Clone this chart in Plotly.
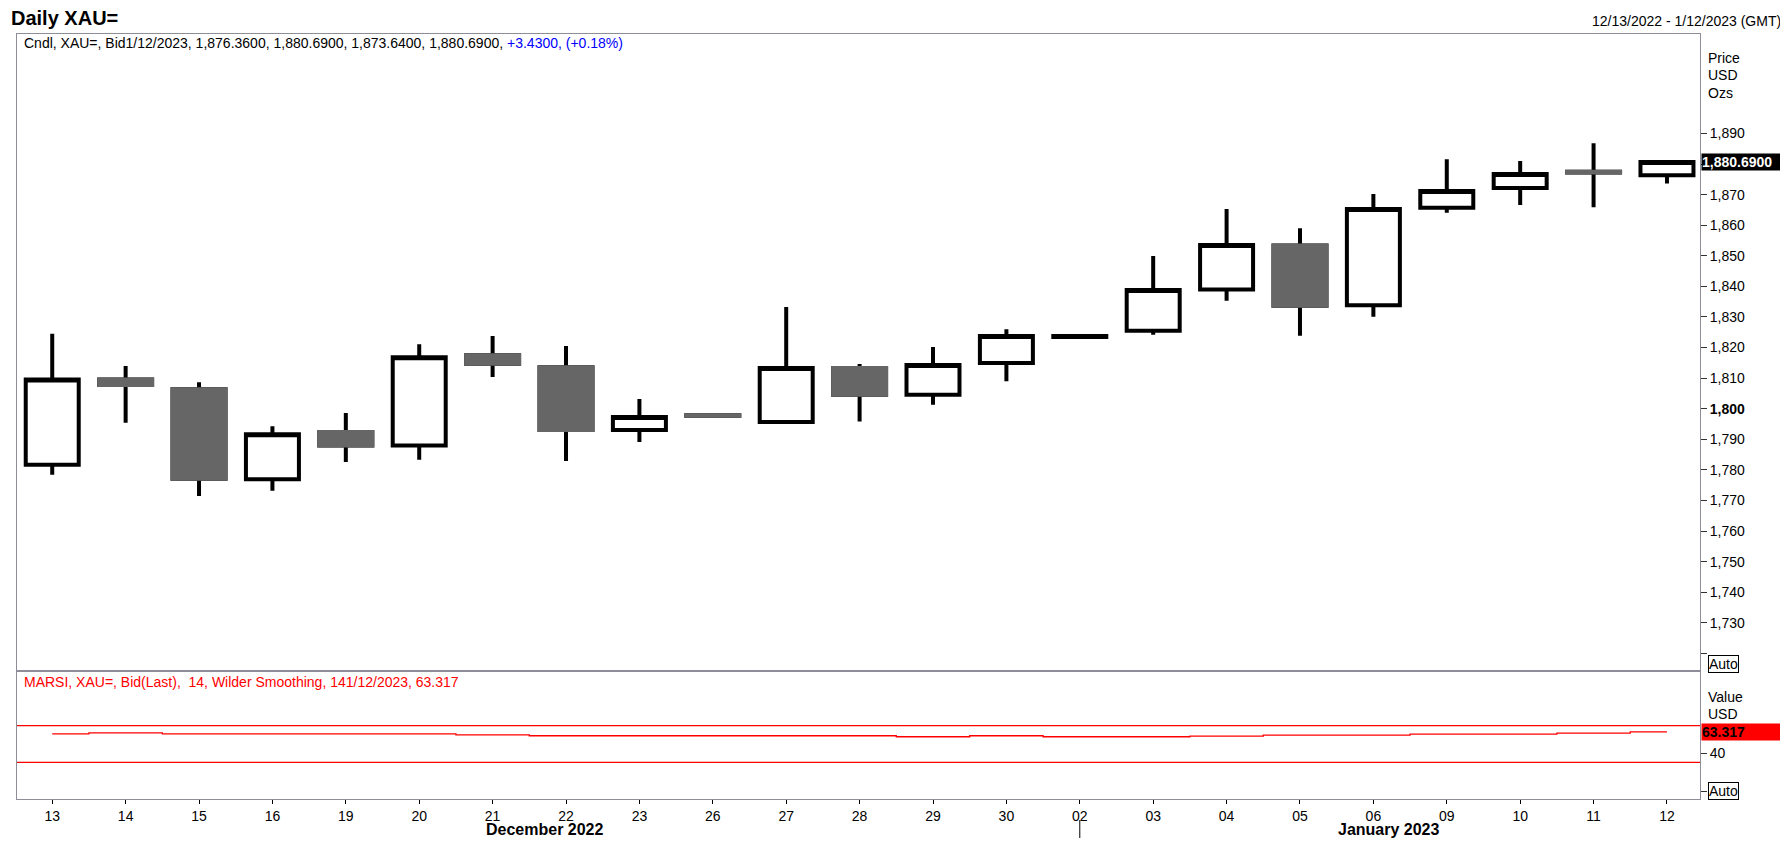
import plotly.graph_objects as go
from plotly.subplots import make_subplots

# daily XAU= bid candles, 13 Dec 2022 - 12 Jan 2023
days = ["13", "14", "15", "16", "19", "20", "21", "22", "23", "26", "27", "28", "29", "30",
        "02", "03", "04", "05", "06", "09", "10", "11", "12"]
months = ["December 2022"] * 14 + ["January 2023"] * 9

opens = [1781.7, 1809.6, 1806.4, 1777.0, 1792.4, 1788.0, 1817.5, 1813.6, 1793.1, 1797.9,
         1795.7, 1813.3, 1804.6, 1815.0, 1823.5, 1825.5, 1839.0, 1853.4, 1833.8, 1865.7,
         1872.2, 1877.45, 1876.36]
highs = [1824.5, 1814.0, 1808.7, 1794.3, 1798.6, 1821.1, 1823.8, 1820.5, 1803.2, 1797.9,
         1833.3, 1814.6, 1820.2, 1826.0, 1823.9, 1849.9, 1865.3, 1859.0, 1870.2, 1881.6,
         1881.0, 1886.8, 1880.69]
lows = [1778.4, 1795.4, 1771.5, 1773.2, 1782.6, 1783.3, 1810.4, 1782.9, 1789.1, 1797.7,
        1795.5, 1795.8, 1801.3, 1809.0, 1823.4, 1824.2, 1835.3, 1823.9, 1830.1, 1864.1,
        1866.6, 1865.9, 1873.64]
closes = [1809.6, 1807.8, 1777.1, 1791.7, 1788.0, 1816.8, 1814.7, 1793.1, 1797.3, 1797.7,
          1813.3, 1804.6, 1814.3, 1823.8, 1823.8, 1838.8, 1853.5, 1833.7, 1865.3, 1871.2,
          1876.7, 1877.26, 1880.69]

# MARSI 14, Wilder smoothing
rsi = [61.1, 62.2, 61.1, 61.1, 61.1, 61.1, 60.0, 59.0, 59.0, 59.0, 59.0, 59.0, 57.9, 59.0,
       57.9, 57.9, 58.6, 59.7, 59.7, 60.8, 60.8, 61.9, 63.317]
rsi_levels = [70, 30]

price_ticks = list(range(1720, 1900, 10))

FONT = "Liberation Sans, Arial, sans-serif"
BORDER = "#8e8e9a"

# plot frame in page pixels; the page body adds an 8px margin round the figure
OFF = 8
PAGE_W, PAGE_H = 1788, 862
L, R, T, B = 17, 1700, 34, 799


def px(X):
    return (X - L) / (R - L)


def py(Y):
    return (B - Y) / (B - T)


idx = list(range(len(days)))
down = [i for i in idx if closes[i] < opens[i]]
last = len(days) - 1

fig = make_subplots(rows=2, cols=1, shared_xaxes=True, vertical_spacing=0,
                    row_heights=[636.5 / 765, 128.5 / 765])

fig.add_trace(go.Candlestick(
    x=idx, open=opens, high=highs, low=lows, close=closes,
    increasing=dict(line=dict(color="black", width=4), fillcolor="white"),
    decreasing=dict(line=dict(color="black", width=4), fillcolor="#666666"),
    whiskerwidth=0, showlegend=False, hoverinfo="skip"), row=1, col=1)

# grey bodies of falling days drawn over the black outline
fig.add_trace(go.Candlestick(
    x=down, open=[opens[i] for i in down], close=[closes[i] for i in down],
    high=[opens[i] for i in down], low=[closes[i] for i in down],
    increasing=dict(line=dict(color="#666666", width=4), fillcolor="#666666"),
    decreasing=dict(line=dict(color="#666666", width=4), fillcolor="#666666"),
    whiskerwidth=0, showlegend=False, hoverinfo="skip"), row=1, col=1)

fig.add_trace(go.Scatter(x=idx, y=rsi, mode="lines", line=dict(color="red", width=1.3, shape="hvh"),
                         showlegend=False, hoverinfo="skip"), row=2, col=1)

fig.update_xaxes(range=[-0.48, 22.45], showline=True, linecolor=BORDER, linewidth=1, mirror=True,
                 showgrid=False, zeroline=False, rangeslider_visible=False)
fig.update_xaxes(showticklabels=False, ticks="", row=1, col=1)
fig.update_xaxes(tickmode="array", tickvals=idx, ticktext=days, ticks="outside", ticklen=4,
                 tickcolor="black", tickfont=dict(family=FONT, size=14, color="black"), row=2, col=1)


def price_label(v):
    if v in (1720, 1880):  # hidden behind the Auto box / last price box
        return ""
    if v == 1800:
        return "<b>1,800</b>"
    return f"{v:,}"


fig.update_yaxes(side="right", showline=True, linecolor=BORDER, linewidth=1, mirror=True,
                 showgrid=False, zeroline=False, ticks="outside", ticklen=6, tickcolor="#333333",
                 tickfont=dict(family=FONT, size=14, color="black"))
fig.update_yaxes(range=[1714.45, 1922.5], tickmode="array", tickvals=price_ticks,
                 ticktext=[price_label(v) for v in price_ticks], row=1, col=1)
fig.update_yaxes(range=[-10.1, 130.3], tickmode="array", tickvals=[40, -1.4], ticktext=["40", ""],
                 row=2, col=1)

chg = closes[last] - closes[last - 1]
pct = chg / closes[last - 1] * 100
header = (f"Cndl, XAU=, Bid1/12/2023, {opens[last]:,.4f}, {highs[last]:,.4f}, "
          f"{lows[last]:,.4f}, {closes[last]:,.4f}, "
          f"<span style='color:#0000ff'>{chg:+.4f}, ({pct:+.2f}%)</span>")

ann = [
    dict(text="<b>Daily XAU=</b>", x=px(9), y=py(18), xanchor="left",
         font=dict(family=FONT, size=20, color="black")),
    dict(text="12/13/2022 - 1/12/2023 (GMT)", x=px(1783), y=py(21), xanchor="right",
         font=dict(family=FONT, size=14, color="black")),
    dict(text=header, x=px(22), y=py(43), xanchor="left", font=dict(family=FONT, size=14, color="black")),
    dict(text="Price", x=px(1706), y=py(58), xanchor="left", font=dict(family=FONT, size=14, color="black")),
    dict(text="USD", x=px(1706), y=py(75), xanchor="left", font=dict(family=FONT, size=14, color="black")),
    dict(text="Ozs", x=px(1706), y=py(93), xanchor="left", font=dict(family=FONT, size=14, color="black")),
    dict(text="Auto", x=px(1708), y=py(664), xanchor="left", bordercolor="black", borderwidth=1,
         borderpad=0, font=dict(family=FONT, size=14, color="black")),
    dict(text=f"MARSI, XAU=, Bid(Last),  14, Wilder Smoothing, 141/12/2023, {rsi[last]:.3f}",
         x=px(22), y=py(682), xanchor="left", font=dict(family=FONT, size=14, color="red")),
    dict(text="Value", x=px(1706), y=py(697), xanchor="left", font=dict(family=FONT, size=14, color="black")),
    dict(text="USD", x=px(1706), y=py(714), xanchor="left", font=dict(family=FONT, size=14, color="black")),
    dict(text="Auto", x=px(1708), y=py(791), xanchor="left", bordercolor="black", borderwidth=1,
         borderpad=0, font=dict(family=FONT, size=14, color="black")),
]
for a in ann:
    a.update(xref="paper", yref="paper", showarrow=False, yanchor="middle")

ann.append(dict(text=f"<b>{closes[last]:,.4f}</b>", x=1, xshift=1, xref="paper", y=closes[last], yref="y",
                xanchor="left", yanchor="middle", showarrow=False, bgcolor="black", width=84, align="left",
                borderpad=0, font=dict(family=FONT, size=14, color="white")))
ann.append(dict(text=f"<b>{rsi[last]:.3f}</b>", x=1, xshift=1, xref="paper", y=rsi[last], yref="y2",
                xanchor="left", yanchor="middle", showarrow=False, bgcolor="red", width=84, align="left",
                borderpad=0, font=dict(family=FONT, size=14, color="black")))

for m in dict.fromkeys(months):
    pos = [i for i in idx if months[i] == m]
    ann.append(dict(text=f"<b>{m}</b>", x=sum(pos) / len(pos), xref="x2", xshift=16, y=py(829), yref="paper",
                    showarrow=False, yanchor="middle", font=dict(family=FONT, size=16, color="black")))

fig_w, fig_h = PAGE_W - 2 * OFF, PAGE_H - 2 * OFF
fig.update_layout(
    width=fig_w, height=fig_h,
    margin=dict(l=L - OFF, r=fig_w - (R - OFF), t=T - OFF, b=fig_h - (B - OFF)),
    paper_bgcolor="white", plot_bgcolor="white",
    boxgap=0.278, boxgroupgap=0,
    annotations=ann,
    font=dict(family=FONT, color="black"),
)

for lv in rsi_levels:
    fig.add_hline(y=lv, line=dict(color="red", width=1.3), row=2, col=1)

# month boundary mark under the first January day
first_jan = months.index("January 2023")
fig.add_shape(type="line", xref="x2", yref="paper", x0=first_jan, x1=first_jan, y0=py(820), y1=py(838),
              line=dict(color="black", width=1))

fig.write_html("out.html")
